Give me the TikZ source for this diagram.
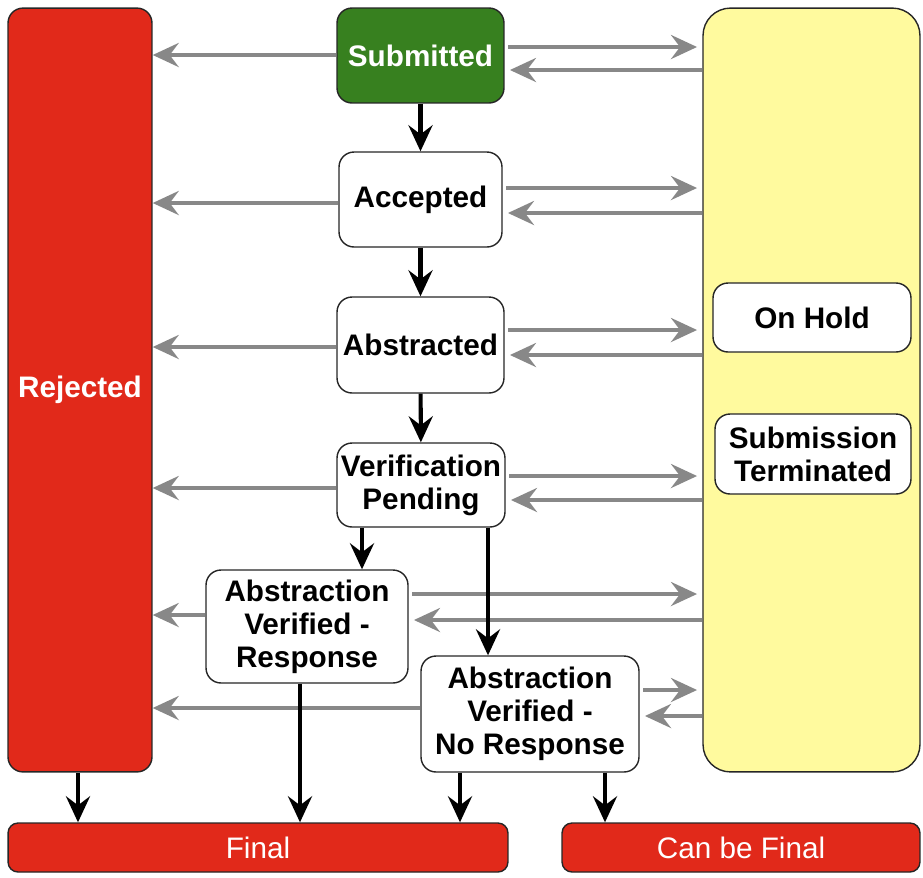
\documentclass[tikz,border=0pt]{standalone}
\usepackage{fontspec}
\setmainfont{Liberation Sans}
\usetikzlibrary{arrows.meta}

\definecolor{rejred}{HTML}{E1291A}
\definecolor{subgreen}{HTML}{37801F}
\definecolor{holdyellow}{HTML}{FFFA9E}
\definecolor{flowgray}{HTML}{888888}

\begin{document}
\begin{tikzpicture}[
    x=0.02cm, y=-0.02cm,
    every node/.style={font=\fontsize{16.9}{18.7}\selectfont},
    state/.style={rectangle, draw=black!85, line width=0.8pt, rounded corners=0.3cm, fill=white, align=center, inner sep=0pt, font=\fontsize{16.9}{18.7}\selectfont\bfseries},
    endbox/.style={rectangle, draw=black!85, line width=0.8pt, rounded corners=0.2cm, fill=rejred, text=white, inner sep=0pt, minimum height=0.98cm},
    arrow/.style={-{Stealth[length=5.2mm, width=4.8mm, inset=1.8mm]}, line width=2.3pt, black},
    grayarrow/.style={-{Stealth[length=5.2mm, width=4.8mm, inset=1.8mm]}, line width=2.3pt, flowgray},
]
\useasboundingbox (0,0) rectangle (923,877);

% side columns
\node[state, fill=rejred, text=white, minimum width=2.88cm, minimum height=15.28cm] (rej) at (80,390) {Rejected};
\node[state, fill=holdyellow, rounded corners=0.55cm, minimum width=4.34cm, minimum height=15.28cm] (wait) at (811.5,390) {};
\node[state, minimum width=3.96cm, minimum height=1.38cm] (hold) at (812,317.5) {On Hold};
\node[state, minimum width=3.92cm, minimum height=1.6cm] (term) at (813,454) {Submission\\Terminated};

% main states
\node[state, fill=subgreen, text=white, minimum width=3.34cm, minimum height=1.9cm] (sub) at (420.5,55.5) {Submitted};
\node[state, minimum width=3.26cm, minimum height=1.9cm] (acc) at (420.5,199.5) {Accepted};
\node[state, minimum width=3.34cm, minimum height=1.92cm] (abs) at (420.5,345) {Abstracted};
\node[state, minimum width=3.36cm, minimum height=1.68cm] (ver) at (421,485) {Verification\\Pending};
\node[state, minimum width=4.04cm, minimum height=2.26cm] (avr) at (307,626.5) {Abstraction\\Verified -\\Response};
\node[state, minimum width=4.36cm, minimum height=2.32cm] (avnr) at (530,714) {Abstraction\\Verified -\\No Response};

% end states
\node[endbox, minimum width=10cm] (fin) at (258,847.5) {Final};
\node[endbox, minimum width=7.16cm] (canfin) at (741,847.5) {Can be Final};

% to rejected
\foreach \n/\y in {sub/55, acc/203, abs/347, ver/488, avr/615, avnr/708}
  \draw[grayarrow] (\n.west |- 0,\y) -- (rej.east |- 0,\y);

% to and from the hold column
\foreach \n/\yo/\yi in {sub/47/70, acc/188/213, abs/330/355, ver/476/500, avr/594/620, avnr/690/716} {
  \draw[grayarrow, shorten <=2pt, shorten >=3pt] (\n.east |- 0,\yo) -- (wait.west |- 0,\yo);
  \draw[grayarrow, shorten >=3pt] (wait.west |- 0,\yi) -- (\n.east |- 0,\yi);
}

% main flow
\draw[arrow] (sub) -- (acc);
\draw[arrow] (acc) -- (abs);
\draw[arrow] (abs) -- (ver);
\draw[arrow] (ver.south -| 362,0) -- (avr.north -| 362,0);
\draw[arrow] (ver.south -| 488,0) -- (avnr.north -| 488,0);
\draw[arrow] (rej.south -| 78,0) -- (fin.north -| 78,0);
\draw[arrow] (avr.south -| 300,0) -- (fin.north -| 300,0);
\draw[arrow] (avnr.south -| 460,0) -- (fin.north -| 460,0);
\draw[arrow] (avnr.south -| 605,0) -- (canfin.north -| 605,0);
\end{tikzpicture}
\end{document}
